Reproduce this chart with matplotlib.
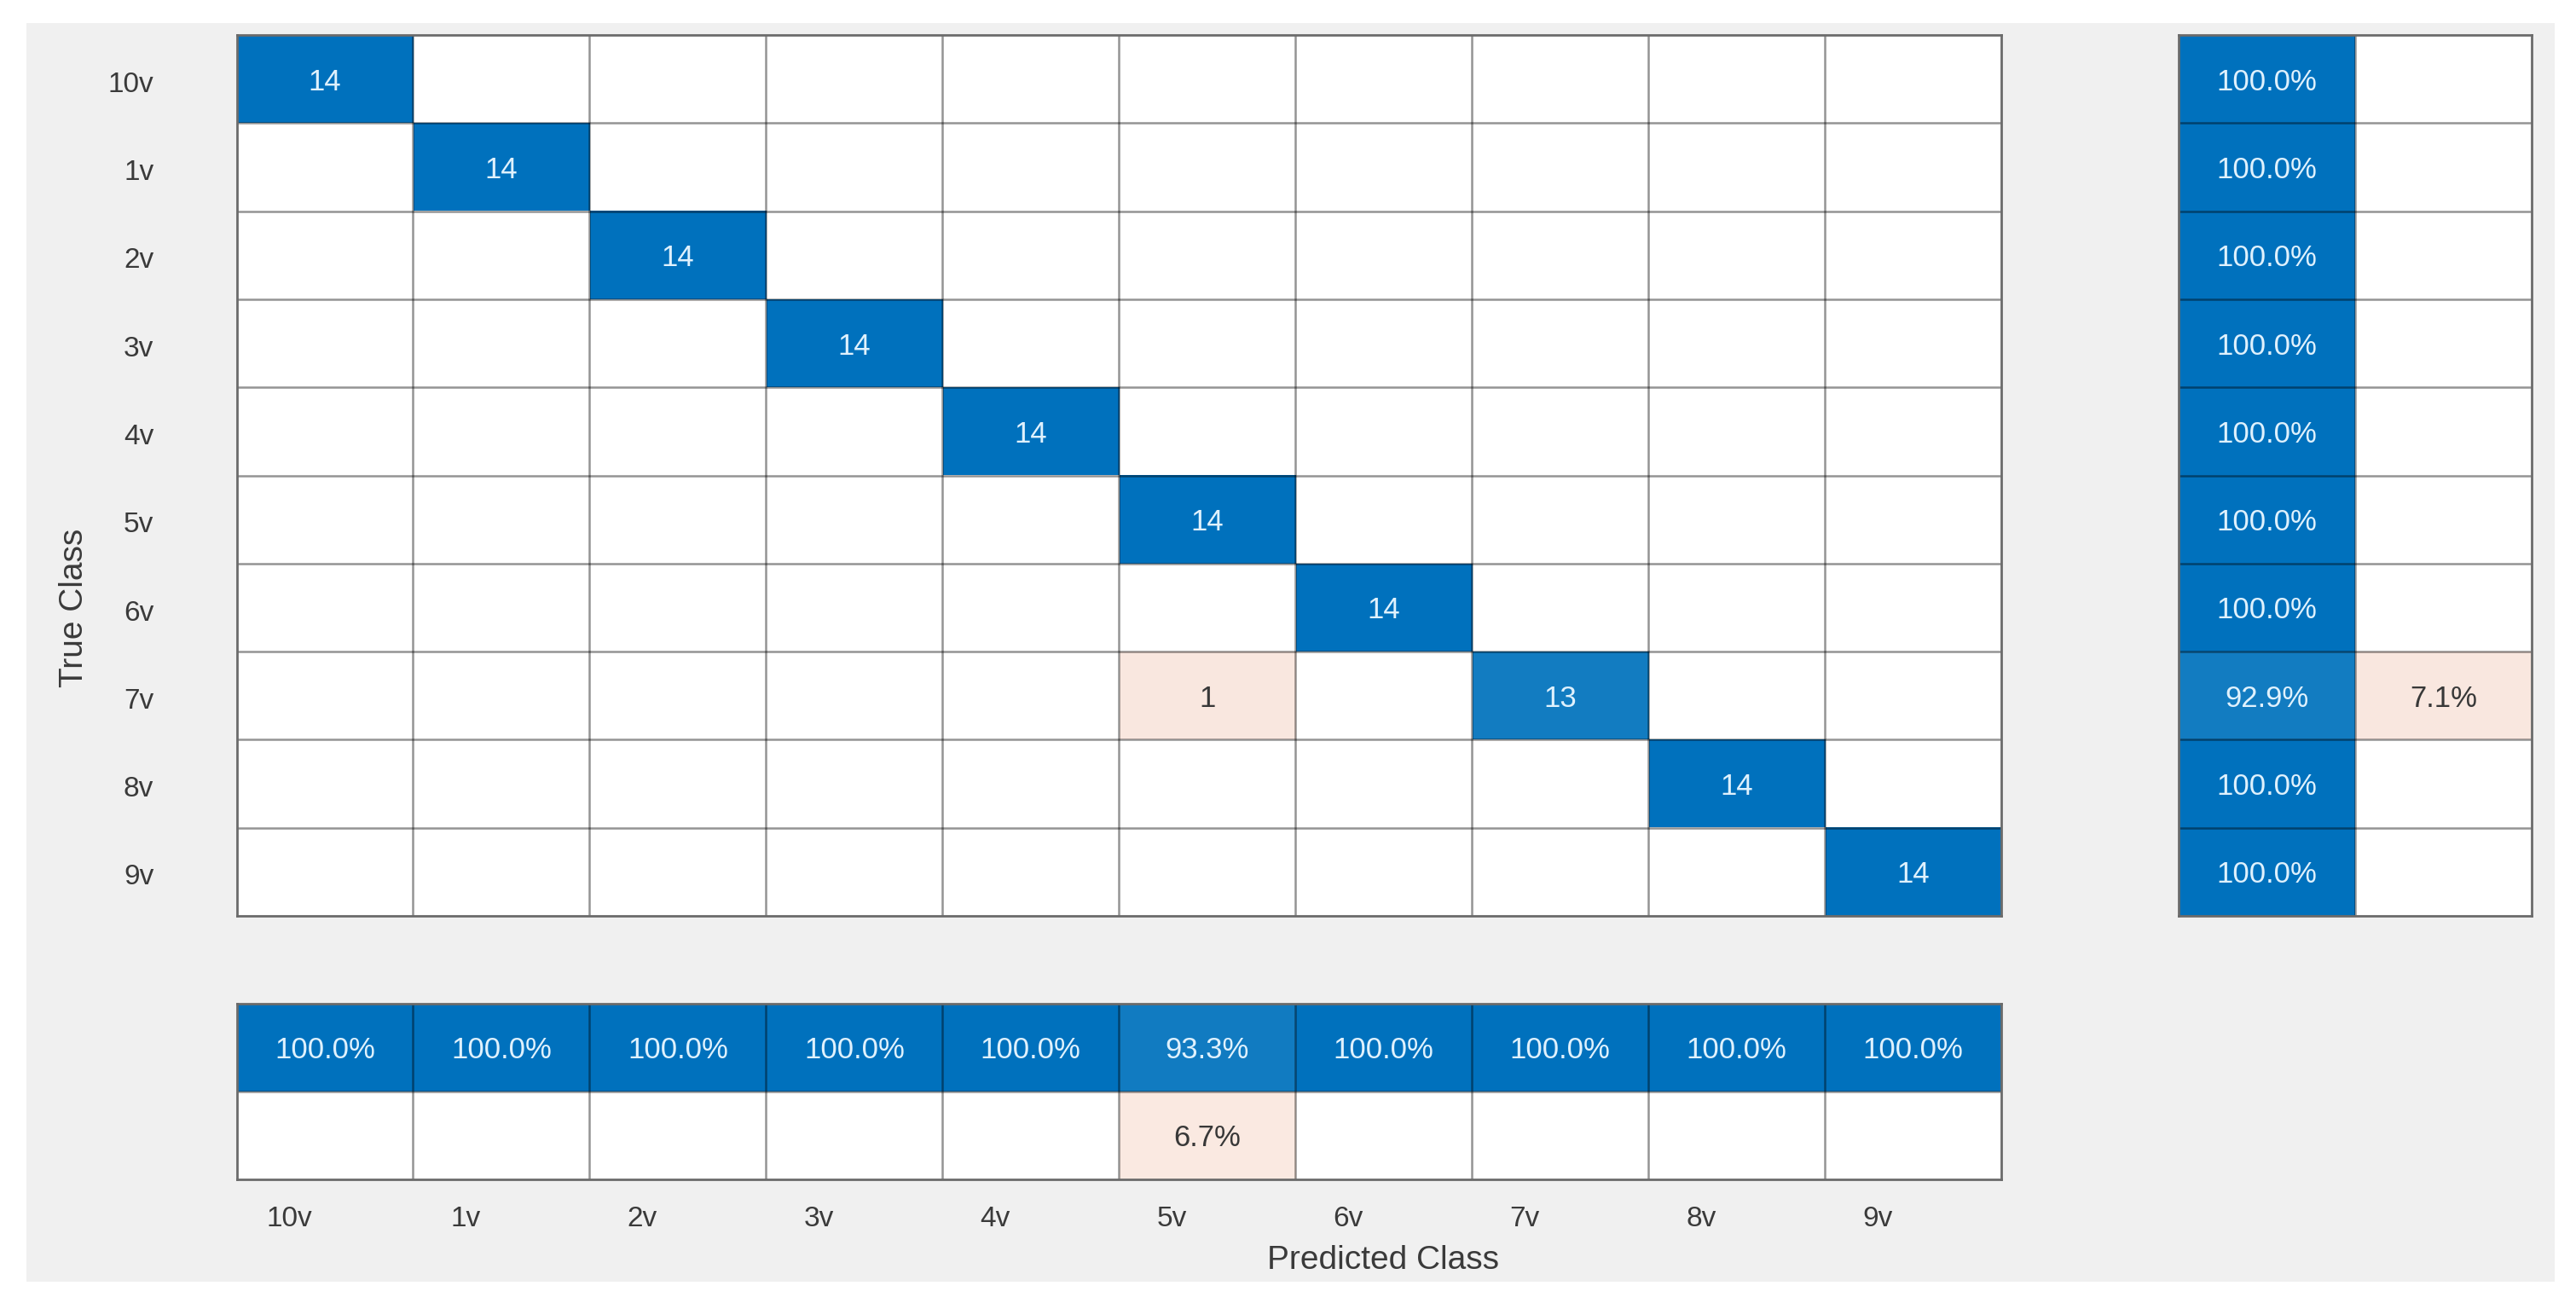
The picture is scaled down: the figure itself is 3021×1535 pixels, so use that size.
import numpy as np
import matplotlib
matplotlib.use("Agg")
import matplotlib.pyplot as plt
from matplotlib.transforms import offset_copy

plt.rcParams['font.family'] = ['Liberation Sans', 'DejaVu Sans']

# ---------------- data ----------------
classes = ['10v', '1v', '2v', '3v', '4v', '5v', '6v', '7v', '8v', '9v']
counts = [
    [14, 0, 0, 0, 0, 0, 0, 0, 0, 0],
    [0, 14, 0, 0, 0, 0, 0, 0, 0, 0],
    [0, 0, 14, 0, 0, 0, 0, 0, 0, 0],
    [0, 0, 0, 14, 0, 0, 0, 0, 0, 0],
    [0, 0, 0, 0, 14, 0, 0, 0, 0, 0],
    [0, 0, 0, 0, 0, 14, 0, 0, 0, 0],
    [0, 0, 0, 0, 0, 0, 14, 0, 0, 0],
    [0, 0, 0, 0, 0, 1, 0, 13, 0, 0],
    [0, 0, 0, 0, 0, 0, 0, 0, 14, 0],
    [0, 0, 0, 0, 0, 0, 0, 0, 0, 14],
]
xlabel_text = 'Predicted Class'
ylabel_text = 'True Class'

# ---------------- styling ----------------
W, H = 3021, 1535
DPI = 100
BLUE = np.array([0, 114, 189]) / 255.0
ORANGE = np.array([217, 83, 25]) / 255.0
WHITE = np.array([1.0, 1.0, 1.0])
TXT_LIGHT = '#dff1fd'
TXT_DARK = '#383838'
FS = 25
PINK_GAIN = 1.9
LINE_KW = dict(color='black', alpha=0.42, lw=1.8)

M = np.array(counts, dtype=float)
n = len(classes)
row_tot = M.sum(axis=1)
col_tot = M.sum(axis=0)
diag = np.diag(M)
row_pct = np.vstack([diag / row_tot, 1 - diag / row_tot]).T * 100   # n x 2
col_pct = np.vstack([diag / col_tot, 1 - diag / col_tot]) * 100     # 2 x n
vmax = M.max()


def blend(base, t):
    t = float(np.clip(t, 0, 1))
    return WHITE + t * (base - WHITE)


def px_axes(fig, x0, y0, x1, y1, **kw):
    return fig.add_axes([x0 / W, 1 - y1 / H, (x1 - x0) / W, (y1 - y0) / H], **kw)


fig = plt.figure(figsize=(W / DPI, H / DPI), dpi=DPI, facecolor='white')
# grey figure panel (background axes)
bg = px_axes(fig, 31, 27, 2996, 1503, zorder=-10)
bg.set_facecolor('#f0f0f0')
bg.set_xticks([]); bg.set_yticks([])
for sp in bg.spines.values():
    sp.set_visible(False)


def draw_grid(ax, colors, texts, tcols, nr, nc):
    img = np.array(colors).reshape(nr, nc, 3)
    ax.imshow(img, extent=(0, nc, nr, 0), aspect='auto', interpolation='nearest', zorder=1)
    ax.set_xlim(0, nc)
    ax.set_ylim(nr, 0)
    for k in range(1, nc):
        ax.axvline(k, zorder=2, **LINE_KW)
    for k in range(1, nr):
        ax.axhline(k, zorder=2, **LINE_KW)
    for sp in ax.spines.values():
        sp.set_color((0.42, 0.42, 0.42))
        sp.set_linewidth(2.0)
    tr = offset_copy(ax.transData, fig=fig, x=0, y=-2.5, units='points')
    for i in range(nr):
        for j in range(nc):
            t = texts[i][j]
            if t:
                ax.text(j + 0.5, i + 0.5, t, ha='center', va='center', transform=tr,
                        fontsize=FS, color=tcols[i][j], zorder=3)
    ax.set_xticks([])
    ax.set_yticks([])
    ax.tick_params(length=0)


# ---- main confusion matrix ----
ax = px_axes(fig, 277.5, 41, 2347, 1074)
cols, txts, tc = [], [], []
for i in range(n):
    trow, crow = [], []
    for j in range(n):
        v = M[i, j]
        if v == 0:
            cols.append(WHITE); trow.append(''); crow.append(TXT_DARK)
        elif i == j:
            cols.append(blend(BLUE, v / vmax)); trow.append(f'{int(v)}'); crow.append(TXT_LIGHT)
        else:
            cols.append(blend(ORANGE, PINK_GAIN * v / vmax)); trow.append(f'{int(v)}'); crow.append(TXT_DARK)
    txts.append(trow); tc.append(crow)
draw_grid(ax, cols, txts, tc, n, n)
ax.set_yticks(np.arange(n) + 0.53)
ax.set_yticklabels(classes, fontsize=24, color='#3a3a3a')
ax.tick_params(axis='y', length=0, pad=70)

# ---- row summary (right) ----
axr = px_axes(fig, 2555, 41, 2969, 1074)
cols, txts, tc = [], [], []
for i in range(n):
    good, bad = row_pct[i]
    cols.append(blend(BLUE, good / 100))
    cols.append(blend(ORANGE, PINK_GAIN * bad / 100) if bad > 0 else WHITE)
    txts.append([f'{good:.1f}%', f'{bad:.1f}%' if bad > 0 else ''])
    tc.append([TXT_LIGHT, TXT_DARK])
draw_grid(axr, cols, txts, tc, n, 2)

# ---- column summary (bottom) ----
axb = px_axes(fig, 277.5, 1177, 2347, 1383)
cols = []
trow0, trow1 = [], []
for j in range(n):
    cols.append(blend(BLUE, col_pct[0, j] / 100))
    trow0.append(f'{col_pct[0, j]:.1f}%')
for j in range(n):
    bad = col_pct[1, j]
    cols.append(blend(ORANGE, PINK_GAIN * bad / 100) if bad > 0 else WHITE)
    trow1.append(f'{bad:.1f}%' if bad > 0 else '')
txts = [trow0, trow1]
tc = [[TXT_LIGHT] * n, [TXT_DARK] * n]
draw_grid(axb, cols, txts, tc, 2, n)
axb.set_xticks(np.arange(n) + 0.3)
axb.set_xticklabels(classes, fontsize=24, color='#3a3a3a')
axb.tick_params(axis='x', length=0, pad=22)

# axis titles
fig.text(1622 / W, 1 - 1478 / H, xlabel_text, ha='center', va='center', fontsize=28, color='#3a3a3a')
fig.text(87 / W, 1 - 713 / H, ylabel_text, ha='center', va='center', rotation=90, fontsize=28, color='#3a3a3a')

fig.savefig('out.png', dpi=DPI, facecolor='white')
